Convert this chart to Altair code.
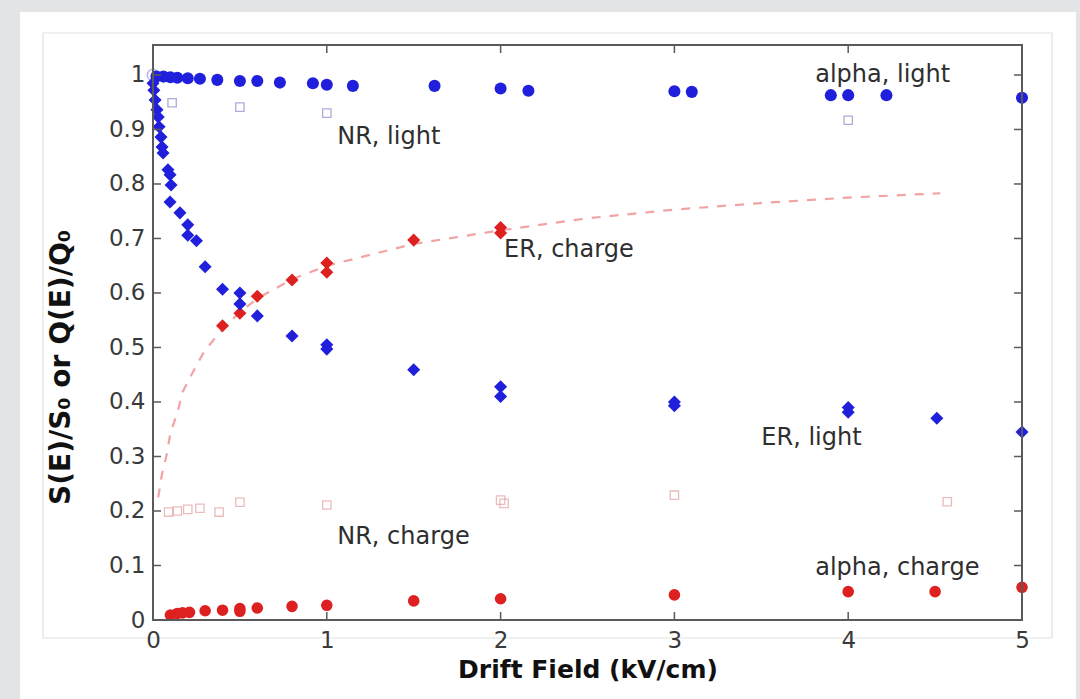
import altair as alt
import pandas as pd

# ---------------- data ----------------
alpha_light_x = [0.02, 0.06, 0.10, 0.14, 0.20, 0.27, 0.37, 0.50, 0.60, 0.73, 0.92, 1.00, 1.15, 1.62, 2.00, 2.16, 3.00, 3.10, 3.90, 4.00, 4.22, 5.00]
alpha_light_y = [0.997, 0.997, 0.996, 0.995, 0.994, 0.993, 0.991, 0.989, 0.989, 0.986, 0.985, 0.982, 0.980, 0.980, 0.975, 0.971, 0.970, 0.969, 0.963, 0.963, 0.963, 0.958]

origin_x = [0.0]
origin_y = [1.0]

er_light_x = [0.0, 0.005, 0.012, 0.023, 0.03, 0.035, 0.046, 0.052, 0.058, 0.086, 0.098, 0.104, 0.098, 0.155, 0.20, 0.20, 0.25, 0.30, 0.40, 0.50, 0.50, 0.60, 0.80, 1.00, 1.00, 1.50, 2.00, 2.00, 3.00, 3.00, 4.00, 4.00, 4.51, 5.00]
er_light_y = [0.985, 0.972, 0.954, 0.936, 0.923, 0.905, 0.886, 0.868, 0.857, 0.826, 0.817, 0.798, 0.767, 0.747, 0.725, 0.706, 0.696, 0.648, 0.607, 0.600, 0.580, 0.558, 0.521, 0.505, 0.497, 0.459, 0.428, 0.410, 0.400, 0.393, 0.390, 0.381, 0.370, 0.345]

er_charge_x = [0.40, 0.50, 0.60, 0.80, 1.00, 1.00, 1.50, 2.00, 2.00]
er_charge_y = [0.540, 0.563, 0.594, 0.624, 0.655, 0.638, 0.697, 0.720, 0.710]

alpha_charge_x = [0.10, 0.14, 0.17, 0.21, 0.30, 0.40, 0.50, 0.50, 0.60, 0.80, 1.00, 1.50, 2.00, 3.00, 4.00, 4.50, 5.00]
alpha_charge_y = [0.009, 0.012, 0.013, 0.014, 0.017, 0.018, 0.016, 0.021, 0.022, 0.025, 0.027, 0.035, 0.039, 0.046, 0.052, 0.052, 0.060]

nr_light_x = [0.11, 0.50, 1.00, 4.00]
nr_light_y = [0.949, 0.941, 0.930, 0.917]

nr_charge_x = [0.09, 0.14, 0.20, 0.27, 0.38, 0.50, 1.00, 2.00, 2.02, 3.00, 4.57]
nr_charge_y = [0.198, 0.200, 0.203, 0.205, 0.198, 0.216, 0.211, 0.220, 0.214, 0.229, 0.217]

fit_x = [0.03, 0.05, 0.08, 0.10, 0.14, 0.17, 0.23, 0.29, 0.37, 0.50, 0.60, 0.80, 1.00, 1.50, 2.00, 2.50, 3.00, 3.50, 4.00, 4.53]
fit_y = [0.225, 0.265, 0.305, 0.343, 0.380, 0.418, 0.455, 0.490, 0.523, 0.565, 0.590, 0.625, 0.650, 0.690, 0.715, 0.737, 0.753, 0.765, 0.775, 0.783]

label_text = ["alpha, light", "NR, light", "ER, charge", "ER, light", "NR, charge", "alpha, charge"]
label_x = [3.81, 1.06, 2.02, 3.50, 1.06, 3.81]
label_y = [1.000, 0.886, 0.679, 0.334, 0.152, 0.095]

x_ticks = [0, 1, 2, 3, 4, 5]
y_ticks = [0.0, 0.1, 0.2, 0.3, 0.4, 0.5, 0.6, 0.7, 0.8, 0.9, 1.0]

# ---------------- styling ----------------
W, H = 869, 575
BLUE = "#2020dc"
RED = "#dd2020"
FRAME = "#5a5a5a"
FONT = "DejaVu Sans"

xs = alt.Scale(domain=[0, 5], nice=False, zero=False)
ys = alt.Scale(domain=[0, 1.055], nice=False, zero=False)

x_axis = alt.Axis(values=x_ticks, format="d", ticks=False, tickSize=0, domain=False, grid=False,
                  labelFont=FONT, labelFontSize=23, labelColor="#3a3a3a", labelPadding=20,
                  labelBaseline="middle", labelFlush=False, zindex=2,
                  title="Drift Field (kV/cm)", titleFont=FONT, titleFontSize=25, titleFontWeight="bold",
                  titleColor="#111111", titleY=49, titleBaseline="middle")
y_axis = alt.Axis(values=y_ticks, format="~g", ticks=False, tickSize=0, domain=False, grid=False,
                  labelFont=FONT, labelFontSize=23, labelColor="#3a3a3a", labelPadding=8,
                  labelFlush=False, zindex=2,
                  title="S(E)/S₀ or Q(E)/Q₀", titleFont=FONT, titleFontSize=28, titleFontWeight="bold",
                  titleColor="#111111", titleAngle=270, titleX=-92, titleY=322,
                  titleAlign="center", titleBaseline="middle")


def X(f="x"):
    return alt.X(f"{f}:Q", scale=xs, axis=x_axis)


def Y(f="y"):
    return alt.Y(f"{f}:Q", scale=ys, axis=y_axis)


def df(xv, yv):
    return pd.DataFrame({"x": xv, "y": yv})


one = pd.DataFrame({"a": [0]})

panel = alt.Chart(one).mark_rect(fill="white", stroke=None).encode(
    x=alt.value(-133), x2=alt.value(W + 54), y=alt.value(-33), y2=alt.value(H + 79))
inner = alt.Chart(one).mark_rect(fill=None, stroke="#e2e2e2", strokeWidth=1.2).encode(
    x=alt.value(-110), x2=alt.value(W + 30), y=alt.value(-12), y2=alt.value(H + 18))
frame = alt.Chart(one).mark_rect(fill=None, stroke=FRAME, strokeWidth=2).encode(
    x=alt.value(0), x2=alt.value(W), y=alt.value(0), y2=alt.value(H))

fit = alt.Chart(df(fit_x, fit_y)).mark_line(color="#f2a3a3", strokeWidth=2.2, strokeDash=[9, 9]).encode(
    x=X(), y=Y())

nr_charge = alt.Chart(df(nr_charge_x, nr_charge_y)).mark_point(
    shape="square", filled=False, color="#e3a0a0", strokeWidth=1.3, size=70).encode(x=X(), y=Y())
nr_light = alt.Chart(df(nr_light_x, nr_light_y)).mark_point(
    shape="square", filled=False, color="#8a8ac8", strokeWidth=1.3, size=70).encode(x=X(), y=Y())
origin = alt.Chart(df(origin_x, origin_y)).mark_point(
    shape="circle", filled=False, color="#9a9ae0", strokeWidth=1.5, size=130).encode(x=X(), y=Y())

alpha_light = alt.Chart(df(alpha_light_x, alpha_light_y)).mark_point(
    shape="circle", filled=True, color=BLUE, opacity=1, size=145).encode(x=X(), y=Y())
er_light = alt.Chart(df(er_light_x, er_light_y)).mark_point(
    shape="diamond", filled=True, color=BLUE, opacity=1, size=170).encode(x=X(), y=Y())
er_charge = alt.Chart(df(er_charge_x, er_charge_y)).mark_point(
    shape="diamond", filled=True, color=RED, opacity=1, size=170).encode(x=X(), y=Y())
alpha_charge = alt.Chart(df(alpha_charge_x, alpha_charge_y)).mark_point(
    shape="circle", filled=True, color=RED, opacity=1, size=135).encode(x=X(), y=Y())

labels = alt.Chart(pd.DataFrame({"x": label_x, "y": label_y, "t": label_text})).mark_text(
    align="left", baseline="middle", font=FONT, fontSize=24, color="#2e2e2e").encode(
    x=X(), y=Y(), text="t:N")

xt = pd.DataFrame({"x": x_ticks})
yt = pd.DataFrame({"y": y_ticks})
tick_style = dict(color=FRAME, strokeWidth=1.5)
ticks_left = alt.Chart(yt).mark_rule(**tick_style).encode(y=Y(), x=alt.value(0), x2=alt.value(8))
ticks_right = alt.Chart(yt).mark_rule(**tick_style).encode(y=Y(), x=alt.value(W - 8), x2=alt.value(W))
ticks_bottom = alt.Chart(xt).mark_rule(**tick_style).encode(x=X(), y=alt.value(H - 8), y2=alt.value(H))
ticks_top = alt.Chart(xt).mark_rule(**tick_style).encode(x=X(), y=alt.value(0), y2=alt.value(8))

chart = alt.layer(
    panel, inner, fit, nr_charge, nr_light, origin,
    alpha_charge, er_charge, er_light, alpha_light, labels,
    ticks_left, ticks_right, ticks_bottom, ticks_top, frame,
).properties(
    width=W, height=H,
    padding={"left": 153, "top": 45, "right": 58, "bottom": 79},
    autosize=alt.AutoSizeParams(type="none"),
    background="#e3e4e6",
).configure_view(
    stroke=None, fill=None,
)

chart.save("out.html", embed_options={"renderer": "svg", "actions": False})
